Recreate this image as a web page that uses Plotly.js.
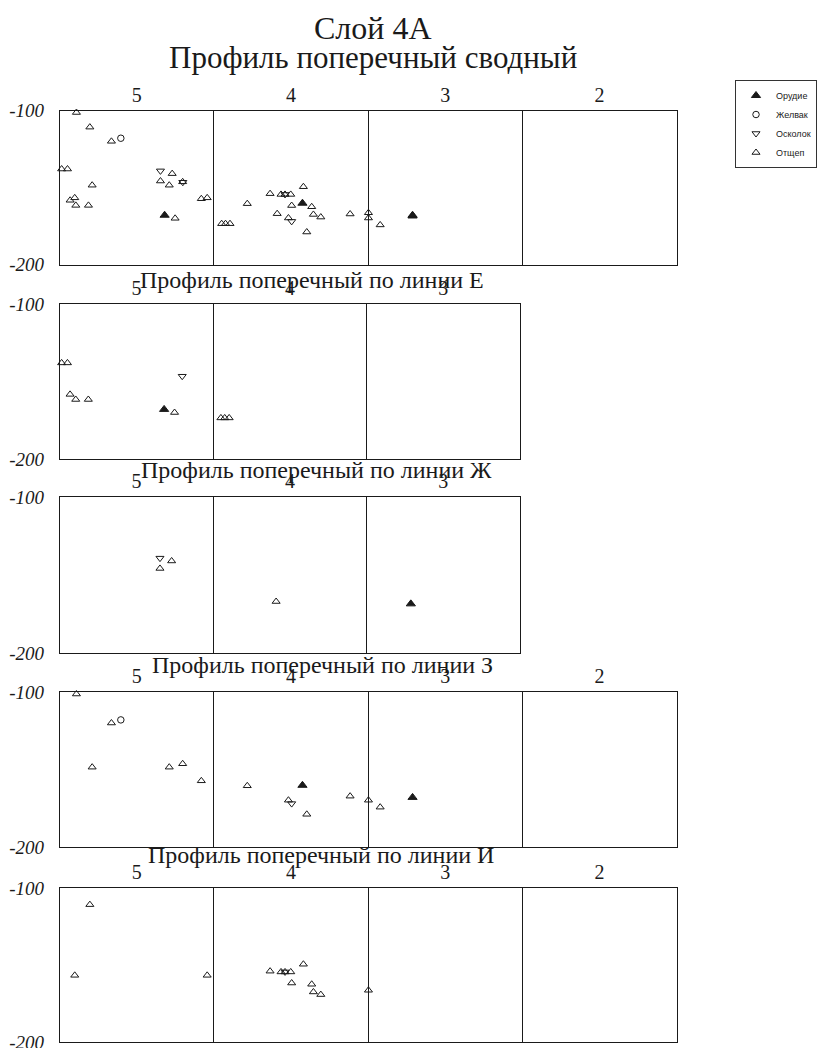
<!DOCTYPE html>
<html><head><meta charset="utf-8">
<script src="https://cdn.plot.ly/plotly-3.0.1.min.js"></script>
<style>html,body{margin:0;padding:0;background:#fff}#chart{width:817px;height:1048px}</style>
</head><body><div id="chart"></div>
<script>
// ---- text ----
const chartTitle = 'Слой 4А';
const panelTitles = ['Профиль поперечный сводный', 'Профиль поперечный по линии Е',
  'Профиль поперечный по линии Ж', 'Профиль поперечный по линии З', 'Профиль поперечный по линии И'];
const columnLabels = ['5', '4', '3', '2'];
const columnCenters = [50, 150, 250, 350];
const columnBounds = [100, 200, 300];
const depthTicks = [-100, -200];
const depthLabels = ['-100', '-200'];
const typeNames = ['Орудие', 'Желвак', 'Осколок', 'Отщеп'];

// ---- line Е ----
const eOrudieX = [68];            const eOrudieY = [-168];
const eZhelvakX = [];             const eZhelvakY = [];
const eOskolokX = [79.8];         const eOskolokY = [-146.6];
const eOtshepX = [1.2, 5, 6.7, 10.4, 18.6, 74.8, 105, 107.5, 110.4];
const eOtshepY = [-138, -138, -158.3, -161.6, -161.6, -170, -173.5, -173.5, -173.5];

// ---- line Ж ----
const zhOrudieX = [228.8];        const zhOrudieY = [-168.5];
const zhZhelvakX = [];            const zhZhelvakY = [];
const zhOskolokX = [65.3];        const zhOskolokY = [-139.2];
const zhOtshepX = [65.3, 72.9, 141];
const zhOtshepY = [-145.8, -141, -167];

// ---- line З ----
const zOrudieX = [157.4, 228.8];  const zOrudieY = [-160.2, -168];
const zZhelvakX = [39.6];         const zZhelvakY = [-118];
const zOskolokX = [150.4];        const zOskolokY = [-172];
const zOtshepX = [10.8, 33.5, 21, 71, 79.7, 91.8, 121.6, 148.3, 160.2, 188.3, 200.2, 207.8];
const zOtshepY = [-101.3, -120, -148.5, -148.5, -146.3, -157.3, -160.5, -169.8, -178.9, -167.2, -169.8, -174.3];

// ---- line И ----
const iOrudieX = [];              const iOrudieY = [];
const iZhelvakX = [];             const iZhelvakY = [];
const iOskolokX = [146.1];        const iOskolokY = [-154.5];
const iOtshepX = [19.5, 9.7, 95.6, 136.4, 143.5, 146.1, 149.8, 158, 150.4, 163.4, 164.5, 169.3, 200.2];
const iOtshepY = [-110.8, -156.7, -156.7, -154, -154.5, -154.5, -154.5, -149.5, -161.7, -162.5, -167.5, -169.2, -166.4];

// per-line groups (order: Орудие, Желвак, Осколок, Отщеп)
const lineE = [[eOrudieX, eOrudieY], [eZhelvakX, eZhelvakY], [eOskolokX, eOskolokY], [eOtshepX, eOtshepY]];
const lineZh = [[zhOrudieX, zhOrudieY], [zhZhelvakX, zhZhelvakY], [zhOskolokX, zhOskolokY], [zhOtshepX, zhOtshepY]];
const lineZ = [[zOrudieX, zOrudieY], [zZhelvakX, zZhelvakY], [zOskolokX, zOskolokY], [zOtshepX, zOtshepY]];
const lineI = [[iOrudieX, iOrudieY], [iZhelvakX, iZhelvakY], [iOskolokX, iOskolokY], [iOtshepX, iOtshepY]];
// summary = union of all lines
const summary = typeNames.map((_, k) => [
  [].concat(lineE[k][0], lineZh[k][0], lineZ[k][0], lineI[k][0]),
  [].concat(lineE[k][1], lineZh[k][1], lineZ[k][1], lineI[k][1])
]);
const panelData = [summary, lineE, lineZh, lineZ, lineI];

// ---- styling / geometry ----
const W = 817, H = 1048;
const ink = '#1a1a1a';
const symbols = ['triangle-up', 'circle-open', 'triangle-down-open', 'triangle-up-open'];
const sizes = [8, 6.5, 7, 7];
const geom = [
  {top: 110.5, bottom: 264.5, left: 60, right: 679, cols: 4, tx: 374, ty: 57},
  {top: 304, bottom: 459, left: 60, right: 522, cols: 3, tx: 313, ty: 280},
  {top: 497, bottom: 653, left: 60, right: 522, cols: 3, tx: 318, ty: 470},
  {top: 692, bottom: 847, left: 60, right: 679, cols: 4, tx: 324, ty: 665},
  {top: 888, bottom: 1042, left: 60, right: 679, cols: 4, tx: 322, ty: 855}
];

const traces = [];
const layout = {
  width: W, height: H,
  margin: {l: 0, r: 0, t: 0, b: 0},
  paper_bgcolor: '#fff', plot_bgcolor: '#fff',
  font: {family: 'Liberation Serif, serif', color: ink},
  showlegend: true,
  hovermode: false,
  legend: {
    x: 738 / W, y: 1 - 80 / H, xanchor: 'left', yanchor: 'top',
    bordercolor: '#333', borderwidth: 1, bgcolor: '#fff',
    font: {family: 'Liberation Sans, Arial, sans-serif', size: 9, color: ink},
    itemwidth: 30, tracegroupgap: 0
  },
  annotations: [
    {text: chartTitle, xref: 'paper', yref: 'paper', x: 374 / W, y: 1 - 28 / H,
     xanchor: 'center', yanchor: 'middle', showarrow: false,
     font: {family: 'Liberation Serif, serif', size: 32, color: ink}}
  ]
};

geom.forEach((g, p) => {
  const ax = p === 0 ? '' : String(p + 1);
  const xName = 'x' + ax, yName = 'y' + ax;
  const nCols = g.cols;
  layout['xaxis' + ax] = {
    domain: [g.left / W, g.right / W], anchor: yName,
    range: [0, nCols * 100], side: 'top',
    tickmode: 'array', tickvals: columnCenters.slice(0, nCols), ticktext: columnLabels.slice(0, nCols),
    ticks: '', showgrid: false, zeroline: false,
    showline: true, mirror: true, linecolor: ink, linewidth: 1,
    minor: {tickmode: 'array', tickvals: columnBounds.slice(0, nCols - 1), showgrid: true, gridcolor: ink, gridwidth: 1, ticks: ''},
    tickfont: {family: 'Liberation Serif, serif', size: 20, color: ink},
    ticklabeloverflow: 'allow',
    fixedrange: true
  };
  layout['yaxis' + ax] = {
    domain: [1 - g.bottom / H, 1 - g.top / H], anchor: xName,
    range: [-200, -100],
    tickmode: 'array', tickvals: depthTicks, ticktext: depthLabels.map(t => '<i>' + t + '</i>'),
    ticks: '', showgrid: false, zeroline: false,
    showline: true, mirror: true, linecolor: ink, linewidth: 1,
    ticklabelstandoff: 11,
    ticklabeloverflow: 'allow',
    tickfont: {family: 'Liberation Serif, serif', size: 19, color: ink},
    fixedrange: true
  };
  layout.annotations.push({
    text: panelTitles[p], xref: 'paper', yref: 'paper', x: g.tx / W, y: 1 - g.ty / H,
    xanchor: 'center', yanchor: 'middle', showarrow: false,
    font: {family: 'Liberation Serif, serif', size: p === 0 ? 31 : 24, color: ink}
  });
  panelData[p].forEach((xy, k) => {
    traces.push({
      type: 'scatter', mode: 'markers', x: xy[0], y: xy[1],
      xaxis: xName, yaxis: yName,
      name: typeNames[k], legendgroup: typeNames[k], showlegend: p === 0,
      cliponaxis: false,
      marker: {symbol: symbols[k], size: sizes[k], color: ink, line: {color: ink, width: 1}}
    });
  });
});

Plotly.newPlot('chart', traces, layout, {displayModeBar: false, staticPlot: true});
</script>
</body></html>
